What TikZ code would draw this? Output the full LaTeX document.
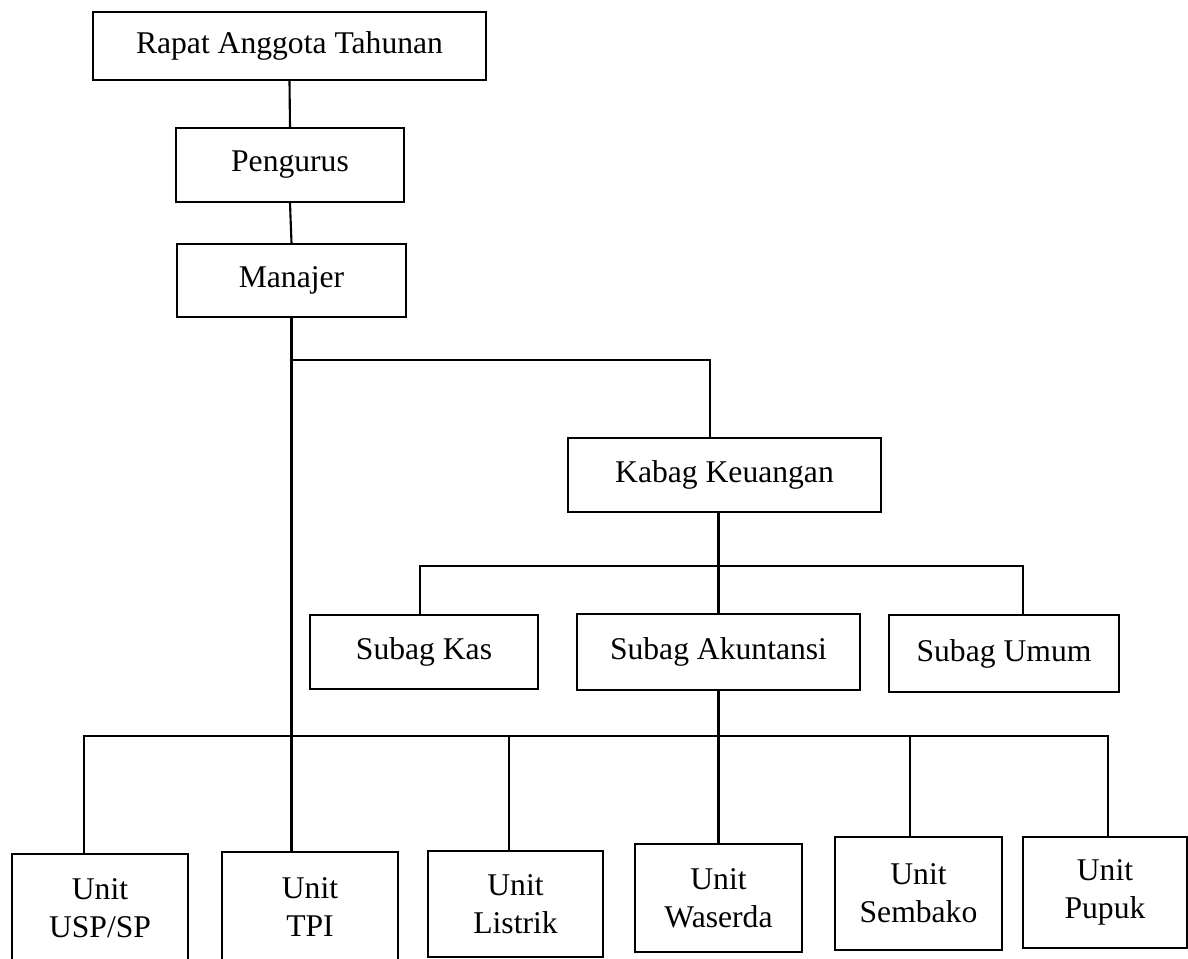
\documentclass[tikz,border=0pt]{standalone}
\usepackage{fontspec}
\setmainfont{Liberation Serif}

\tikzset{
    box/.style = {draw, line width = 1.2pt, inner sep = 2pt, align = center,
        font = \fontsize{18}{21.6}\selectfont},
    link/.style = {line width = 1.2pt}
}

\begin{document}
\begin{tikzpicture}[x = 0.02cm, y = -0.02cm]
            \useasboundingbox (0, 0) rectangle (1188, 958);

            \node [box, minimum width = 7.86cm, minimum height = 1.36cm] (rat) at (289.5, 46) {Rapat Anggota Tahunan};
            \node [box, minimum width = 4.56cm, minimum height = 1.48cm] (peng) at (290, 165) {Pengurus};
            \node [box, minimum width = 4.58cm, minimum height = 1.46cm] (man) at (291.5, 280.5) {Manajer};
            \node [box, minimum width = 6.26cm, minimum height = 1.48cm] (kabag) at (724.5, 475) {Kabag Keuangan};

            \node [box, minimum width = 4.56cm, minimum height = 1.48cm] (kas) at (424, 652) {Subag Kas};
            \node [box, minimum width = 5.66cm, minimum height = 1.52cm] (akun) at (718.5, 652) {Subag Akuntansi};
            \node [box, minimum width = 4.60cm, minimum height = 1.54cm] (umum) at (1004, 653.5) {Subag Umum};

            \node [box, minimum width = 3.52cm, minimum height = 2.16cm] (usp) at (100, 908) {Unit\\USP/SP};
            \node [box, minimum width = 3.52cm, minimum height = 2.20cm] (tpi) at (310, 907) {Unit\\TPI};
            \node [box, minimum width = 3.50cm, minimum height = 2.12cm] (lis) at (515.5, 904) {Unit\\Listrik};
            \node [box, minimum width = 3.34cm, minimum height = 2.16cm] (was) at (718.5, 898) {Unit\\Waserda};
            \node [box, minimum width = 3.34cm, minimum height = 2.26cm] (sem) at (918.5, 893.5) {Unit\\Sembako};
            \node [box, minimum width = 3.28cm, minimum height = 2.22cm] (pup) at (1105, 892.5) {Unit\\Pupuk};

            \coordinate (kj) at (293, 360);
            \coordinate (kk) at (710, 360);
            \coordinate (sl) at (420, 566);
            \coordinate (sr) at (1023, 566);
            \coordinate (ul) at (84, 736);
            \coordinate (ur) at (1108, 736);
            \coordinate (ulis) at (509, 736);
            \coordinate (usem) at (910, 736);

            \draw [link] (rat.south) -- (peng.north);
            \draw [link] (peng.south) -- (man.north);
            \draw [link] (man.south) -- (man.south |- tpi.north);
            \draw [link] (kj) -- (kk) -- (kk |- kabag.north);

            \draw [link] (sl |- kas.north) -- (sl) -- (sr) -- (sr |- umum.north);
            \draw [link] (akun.north |- kabag.south) -- (akun.north);

            \draw [link] (akun.south) -- (was.north);
            \draw [link] (ul |- usp.north) -- (ul) -- (ur) -- (ur |- pup.north);
            \draw [link] (ulis) -- (ulis |- lis.north);
            \draw [link] (usem) -- (usem |- sem.north);
        \end{tikzpicture}
\end{document}
